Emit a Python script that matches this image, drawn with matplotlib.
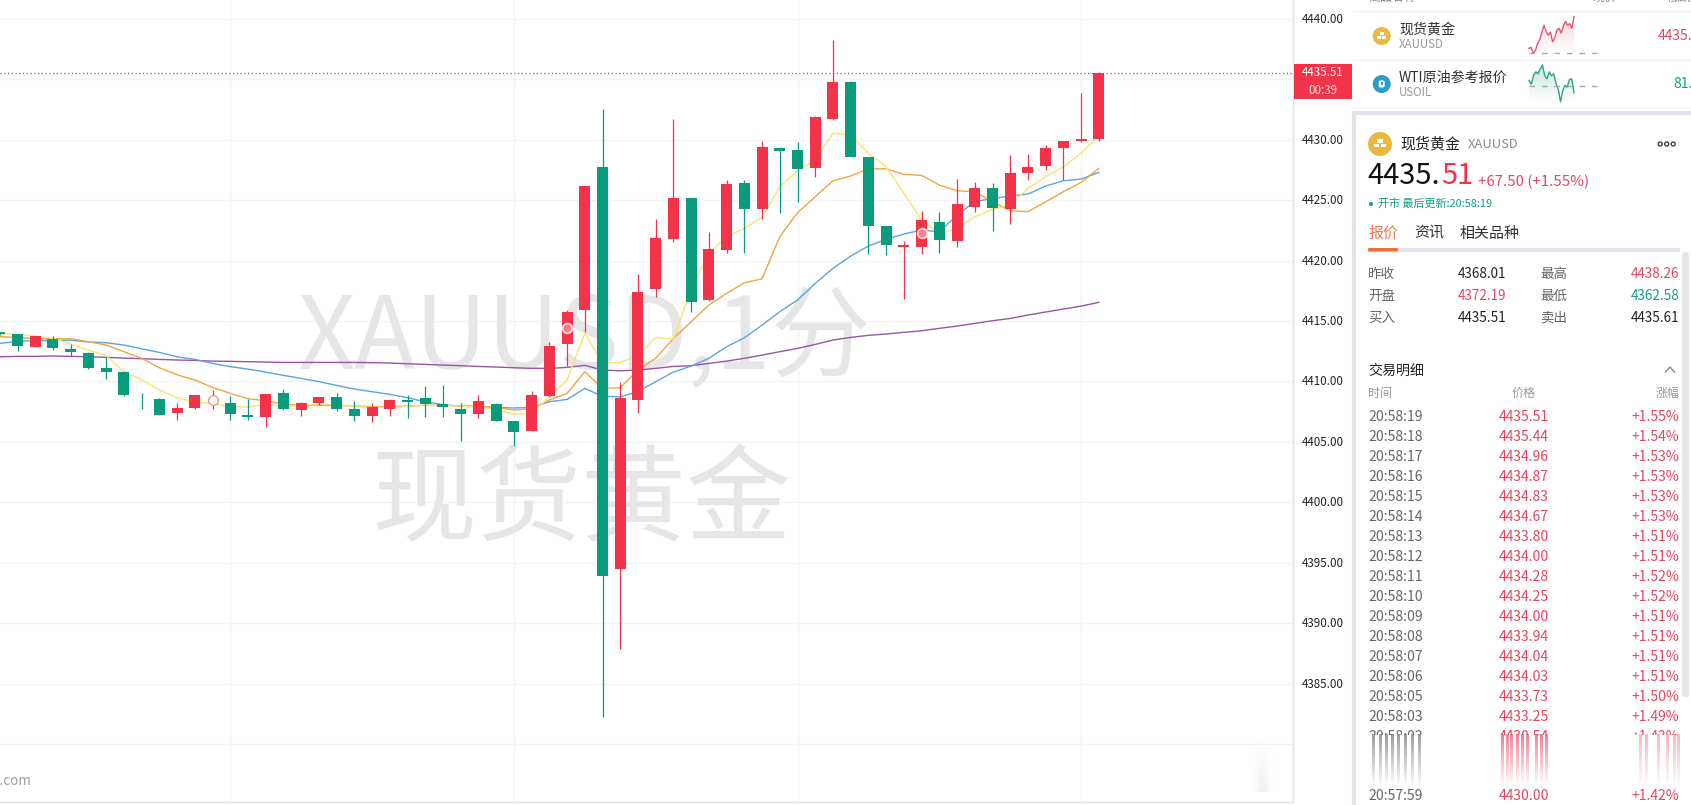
import numpy as np
import matplotlib
matplotlib.use('Agg')
import matplotlib.pyplot as plt
from matplotlib.patches import Rectangle, Circle, FancyBboxPatch
from matplotlib.transforms import ScaledTranslation

plt.rcParams['font.family'] = ['Noto Sans CJK SC', 'DejaVu Sans']

W, H = 1691, 805
RED = '#f2334a'
GREEN = '#0a9b7d'
TEAL = '#0f9f86'
PRICE_RED = '#e2475f'

# candle data, index 0 is the cut one at the left edge
opens = [4414.06, 4413.92, 4412.87, 4413.50, 4412.65, 4412.35, 4411.11, 4410.77, 4408.73, 4408.54, 4407.38,
         4407.80, 4408.45, 4408.21, 4407.19, 4407.05, 4409.04, 4407.63, 4408.21, 4408.71, 4407.71, 4407.14,
         4407.71, 4408.46, 4408.62, 4408.13, 4407.71, 4407.30, 4408.13, 4406.73, 4405.89, 4408.79, 4413.09,
         4415.90, 4427.73, 4394.51, 4408.49, 4417.67, 4421.80, 4425.17, 4416.73, 4420.87, 4426.41, 4424.28,
         4429.30, 4429.14, 4427.65, 4431.70, 4434.76, 4428.56, 4422.85, 4421.11, 4421.11, 4423.18, 4421.61,
         4424.42, 4425.99, 4424.26, 4427.23, 4427.81, 4429.30, 4429.91, 4430.05]
closes = [4413.92, 4412.95, 4413.75, 4412.76, 4412.46, 4411.11, 4410.80, 4408.87, 4408.68, 4407.22, 4407.80,
          4408.87, 4408.50, 4407.30, 4407.05, 4408.95, 4407.71, 4408.21, 4408.71, 4407.71, 4407.14, 4407.88,
          4408.46, 4408.29, 4408.13, 4407.88, 4407.30, 4408.38, 4406.73, 4405.81, 4408.87, 4412.93, 4415.74,
          4426.16, 4393.90, 4408.62, 4417.39, 4421.86, 4425.17, 4416.56, 4420.95, 4426.33, 4424.28, 4429.39,
          4429.08, 4427.57, 4431.87, 4434.76, 4428.56, 4422.85, 4421.28, 4421.25, 4423.35, 4421.69, 4424.67,
          4425.99, 4424.34, 4427.23, 4427.73, 4429.30, 4429.88, 4430.05, 4435.53]
highs = [4414.10, 4413.95, 4413.75, 4413.75, 4413.09, 4412.40, 4412.04, 4410.83, 4409.04, 4408.60, 4408.24,
         4408.87, 4409.29, 4408.79, 4408.54, 4409.00, 4409.37, 4408.29, 4408.71, 4409.04, 4408.38, 4408.24,
         4408.54, 4408.87, 4409.62, 4409.70, 4408.21, 4408.87, 4408.21, 4406.73, 4409.20, 4413.26, 4415.90,
         4426.16, 4432.53, 4409.95, 4418.88, 4423.40, 4431.70, 4425.17, 4422.35, 4426.66, 4426.66, 4429.88,
         4429.30, 4429.80, 4431.95, 4438.24, 4434.84, 4428.56, 4422.85, 4421.61, 4424.06, 4424.01, 4426.74,
         4426.49, 4426.41, 4428.72, 4428.81, 4429.55, 4429.88, 4433.85, 4435.60]
lows = [4413.85, 4412.54, 4412.87, 4412.59, 4412.10, 4411.02, 4410.20, 4408.79, 4407.71, 4407.22, 4406.80,
        4407.74, 4407.71, 4406.83, 4406.80, 4406.25, 4407.66, 4407.14, 4408.02, 4407.55, 4406.72, 4406.64,
        4407.14, 4406.97, 4407.05, 4407.05, 4405.07, 4406.97, 4406.70, 4404.65, 4405.89, 4408.74, 4411.27,
        4414.11, 4382.27, 4387.89, 4407.36, 4417.01, 4421.56, 4415.77, 4416.62, 4420.65, 4420.65, 4423.43,
        4423.95, 4424.84, 4426.90, 4431.62, 4428.56, 4420.54, 4420.45, 4416.81, 4420.54, 4420.62, 4421.11,
        4424.01, 4422.44, 4423.02, 4426.66, 4427.48, 4426.66, 4429.80, 4429.91]

ma_yellow = [4413.97, 4413.89, 4413.75, 4413.56, 4413.09, 4412.59, 4412.15, 4410.80, 4410.11, 4409.29, 4408.65,
             4408.27, 4408.18, 4407.91, 4407.88, 4408.10, 4407.91, 4408.02, 4408.10, 4408.10, 4407.91, 4407.85,
             4407.85, 4407.91, 4408.05, 4408.02, 4407.96, 4407.91, 4407.69, 4407.27, 4407.36, 4408.73, 4410.11,
             4413.97, 4411.55, 4411.55, 4412.18, 4413.64, 4413.48, 4417.70, 4420.59, 4421.97, 4422.66, 4423.57,
             4426.10, 4427.43, 4428.31, 4430.52, 4430.38, 4428.86, 4427.76, 4425.55, 4423.35, 4422.25, 4422.66,
             4423.62, 4424.23, 4424.59, 4425.97, 4426.93, 4427.76, 4428.86, 4430.38]
ma_orange = [4413.70, 4413.64, 4413.53, 4413.53, 4413.53, 4413.28, 4413.01, 4412.46, 4411.91, 4411.13, 4410.55,
             4410.11, 4409.51, 4409.01, 4408.57, 4408.40, 4408.13, 4408.02, 4408.02, 4408.02, 4407.96, 4407.91,
             4407.91, 4407.96, 4408.02, 4408.02, 4407.96, 4407.96, 4407.85, 4407.63, 4407.74, 4408.46, 4409.01,
             4410.80, 4409.42, 4409.48, 4410.94, 4411.91, 4413.56, 4414.94, 4416.32, 4417.28, 4418.16, 4418.49,
             4421.97, 4423.95, 4425.28, 4426.60, 4426.99, 4427.57, 4427.59, 4427.12, 4427.04, 4426.24, 4425.77,
             4425.69, 4424.86, 4424.12, 4424.04, 4424.86, 4425.69, 4426.46, 4427.62]
ma_blue = [4413.15, 4413.31, 4413.37, 4413.37, 4413.42, 4413.26, 4413.20, 4413.01, 4412.70, 4412.40, 4412.04,
           4411.82, 4411.49, 4411.22, 4411.02, 4410.77, 4410.50, 4410.25, 4409.98, 4409.67, 4409.37, 4409.15,
           4408.93, 4408.65, 4408.32, 4408.07, 4407.96, 4407.91, 4407.85, 4407.80, 4407.85, 4408.32, 4408.51,
           4409.42, 4408.76, 4408.73, 4409.15, 4409.98, 4410.77, 4411.27, 4411.91, 4412.87, 4413.61, 4414.66,
           4415.77, 4416.73, 4418.11, 4419.35, 4420.37, 4421.20, 4421.75, 4422.19, 4422.52, 4422.38, 4423.76,
           4424.86, 4425.14, 4425.33, 4425.50, 4426.16, 4426.60, 4426.74, 4427.29]
ma_purple = [4412.04, 4412.07, 4412.07, 4412.10, 4412.07, 4412.04, 4411.99, 4411.93, 4411.88, 4411.82, 4411.77,
             4411.74, 4411.68, 4411.66, 4411.63, 4411.60, 4411.57, 4411.57, 4411.57, 4411.57, 4411.57, 4411.55,
             4411.52, 4411.46, 4411.41, 4411.35, 4411.30, 4411.24, 4411.19, 4411.13, 4411.08, 4411.08, 4411.16,
             4411.33, 4410.94, 4410.88, 4410.94, 4411.08, 4411.24, 4411.30, 4411.49, 4411.68, 4411.91, 4412.18,
             4412.46, 4412.73, 4413.06, 4413.42, 4413.64, 4413.81, 4413.92, 4414.06, 4414.19, 4414.39, 4414.58,
             4414.80, 4415.02, 4415.21, 4415.49, 4415.74, 4415.99, 4416.23, 4416.54]

y_ticks = [4440, 4435, 4430, 4425, 4420, 4415, 4410, 4405, 4400, 4395, 4390, 4385, 4380]
y_labels = ['4440.00', '', '4430.00', '4425.00', '4420.00', '4415.00', '4410.00', '4405.00', '4400.00',
            '4395.00', '4390.00', '4385.00', '']
grid_x = [13, 29, 45, 61]
last_price = 4435.51
marker_idx = [12, 32, 52]
marker_price = [4408.49, 4414.44, 4422.24]

spark_gold = [18, 20, 5, 12, 30, 40, 60, 78, 62, 52, 60, 35, 45, 65, 70, 58, 75, 88, 78, 82, 70, 100]
spark_gold_base = 7
spark_oil = [63, 53, 75, 85, 80, 93, 103, 75, 67, 85, 75, 80, 55, 40, 7, 35, 50, 45, 65, 67, 30]
spark_oil_base = 48

quote_left = [('昨收', '4368.01', '#222222'), ('开盘', '4372.19', PRICE_RED), ('买入', '4435.51', '#222222')]
quote_right = [('最高', '4438.26', PRICE_RED), ('最低', '4362.58', TEAL), ('卖出', '4435.61', '#222222')]

trade_times = ['20:58:19', '20:58:18', '20:58:17', '20:58:16', '20:58:15', '20:58:14', '20:58:13', '20:58:12',
               '20:58:11', '20:58:10', '20:58:09', '20:58:08', '20:58:07', '20:58:06', '20:58:05', '20:58:03',
               '20:58:02']
trade_prices = ['4435.51', '4435.44', '4434.96', '4434.87', '4434.83', '4434.67', '4433.80', '4434.00',
                '4434.28', '4434.25', '4434.00', '4433.94', '4434.04', '4434.03', '4433.73', '4433.25',
                '4430.54']
trade_pcts = ['+1.55%', '+1.54%', '+1.53%', '+1.53%', '+1.53%', '+1.53%', '+1.51%', '+1.51%',
              '+1.52%', '+1.52%', '+1.51%', '+1.51%', '+1.51%', '+1.51%', '+1.50%', '+1.49%',
              '+1.43%']


def px(n):
	# font size in pixels to points at dpi 100
	return n * 0.72


def txt(a, x, y, s, size, color='#333333', ha='left', va='center', **kw):
	a.text(x, y, s, fontsize=px(size), color=color, ha=ha, va=va, **kw)


def fade_stripe(a, x0, x1, y0, y1, rgb, top_alpha):
	# vertical stripe that fades out downward
	img = np.zeros((32, 1, 4))
	img[:, :, 0], img[:, :, 1], img[:, :, 2] = rgb
	img[:, 0, 3] = np.linspace(top_alpha, 0, 32)
	a.imshow(img, extent=(x0, x1, y1, y0), aspect='auto', interpolation='bilinear', zorder=6)


def smudge(a, x0, x1, y0, y1):
	# soft grey blur near the bottom of the chart
	xx = np.linspace(-1, 1, 40)
	yy = np.linspace(0, 1, 60)
	img = np.zeros((60, 40, 4))
	img[:, :, :3] = 0.86
	img[:, :, 3] = 0.45 * np.outer(yy ** 1.5, np.exp(-(xx * 2) ** 2))
	a.imshow(img, extent=(x0, x1, y1, y0), aspect='auto', interpolation='bilinear', zorder=2)


def coin(a, x, y, r, color, kind):
	a.add_patch(Circle((x, y), r, color=color, lw=0, zorder=3))
	if kind == 'gold':
		s = r * 0.24
		for dx, dy in [(0, -s * 1.1), (-s * 1.2, s * 0.6), (s * 1.2, s * 0.6)]:
			a.add_patch(Rectangle((x + dx - s, y + dy - s * 0.6), s * 2, s * 1.2, color='white', lw=0, zorder=4))
	else:
		a.add_patch(FancyBboxPatch((x - 3, y - 3.5), 6, 7, boxstyle='round,pad=0,rounding_size=1.5', fc='white', ec='none', zorder=4))
		a.add_patch(Rectangle((x - 1.2, y - 1.5), 2.4, 3, color=color, lw=0, zorder=5))


def sparkline(fig, top, bottom, values, base, color, rgb):
	ax = fig.add_axes([1529 / W, 1 - bottom / H, 75 / W, (bottom - top) / H])
	ax.axis('off')
	ax.patch.set_alpha(0)
	n = len(values)
	xs = np.arange(n)
	right = (n - 1) * 75 / 45
	lo = min(min(values), base)
	hi = max(values)
	ax.plot(xs, values, color=color, lw=1.0, zorder=3, clip_on=False)
	ax.hlines(base, 0, right, color='#a8a8a8', lw=1.0, linestyles=(0, (4, 5)), zorder=4, clip_on=False)
	img = np.zeros((32, 1, 4))
	img[:, :, 0], img[:, :, 1], img[:, :, 2] = rgb
	img[:, 0, 3] = np.linspace(0.3, 0, 32)
	im = ax.imshow(img, extent=(0, n - 1, lo, hi), aspect='auto', origin='upper', zorder=1)
	poly = ax.fill_between(xs, values, lo, color='none')
	im.set_clip_path(poly.get_paths()[0], transform=ax.transData)
	ax.set_xlim(0, right)
	ax.set_ylim(lo, hi)


def main():
	fig = plt.figure(figsize=(W / 100, H / 100), dpi=100, facecolor='white')
	ax = fig.add_axes([0, 3 / H, 1293 / W, 802 / H])

	n = len(opens)
	x = np.arange(n)
	o = np.array(opens)
	c = np.array(closes)
	colors = [RED if c[i] >= o[i] else GREEN for i in range(n)]

	ax.set_xlim(0.011, 72.95)
	ax.set_ylim(4375.21, 4441.55)
	for g in y_ticks:
		ax.axhline(g, color='#f1f3f7', lw=0.9, zorder=0)
	for g in grid_x:
		ax.axvline(g, color='#f1f3f7', lw=0.9, zorder=0)

	ax.text(32.95, 4413.4, 'XAUUSD,1分', fontsize=px(100), color='#e6e6e8', ha='center', va='center', zorder=1)
	ax.text(32.84, 4400.0, '现货黄金', fontsize=px(105), color='#e6e6e8', ha='center', va='center', zorder=1)

	ax.plot(x, ma_purple, color='#9a54a8', lw=1.0, zorder=2)
	ax.plot(x, ma_blue, color='#5aa5e0', lw=1.0, zorder=2)
	ax.plot(x, ma_orange, color='#f0a63f', lw=1.0, zorder=2)
	ax.plot(x, ma_yellow, color='#fbe36f', lw=1.0, zorder=2)

	ax.vlines(x, lows, highs, colors=colors, lw=0.9, zorder=3)
	ax.bar(x, np.abs(c - o), bottom=np.minimum(o, c), width=0.62, color=colors, lw=0, zorder=4)

	ax.axhline(last_price, color='#c8485a', lw=0.9, ls=(0, (1, 2)), zorder=5)
	ax.plot(marker_idx[0], marker_price[0], 'o', ms=7, mfc='white', mec='#e8998c', mew=1.0, zorder=6)
	ax.plot(marker_idx[1:], marker_price[1:], 'o', ms=7, mfc='#f9808c', mec='#ffe3e5', mew=1.2, zorder=6)

	ax.yaxis.tick_right()
	ax.set_yticks(y_ticks)
	ax.set_yticklabels(y_labels, fontsize=px(11.6), color='#222222')
	ax.tick_params(axis='y', length=0, pad=6)
	up = ScaledTranslation(0, 1 / 100, fig.dpi_scale_trans)
	for lab in ax.get_yticklabels():
		lab.set_transform(lab.get_transform() + up)
	ax.set_xticks([])
	for k in ['top', 'left']:
		ax.spines[k].set_visible(False)
	for k in ['right', 'bottom']:
		ax.spines[k].set_color('#e0e3eb')
		ax.spines[k].set_linewidth(1.0)

	# overlay in pixel coordinates for the side panel
	ov = fig.add_axes([0, 0, 1, 1], zorder=5)
	ov.patch.set_alpha(0)
	ov.axis('off')

	txt(ov, 31, 780.5, '9.com', 13.5, '#a0a0a0', ha='right')
	smudge(ov, 1250, 1274, 738, 792)

	# price tag
	ov.add_patch(Rectangle((1294, 64), 57.5, 35.5, color=RED, lw=0, zorder=3))
	txt(ov, 1322.5, 72.7, '4435.51', 11.6, 'white', ha='center', zorder=4)
	txt(ov, 1322.5, 90, '00:39', 11.6, '#ffe0e3', ha='center', zorder=4)

	# watch list
	for s, xp, ha in [('商品名称', 1368, 'left'), ('现价', 1604, 'center'), ('涨跌', 1680, 'center')]:
		txt(ov, xp, -3, s, 12, '#888888', ha=ha)
	for yy in [11, 60, 108]:
		ov.hlines(yy, 1353, W, color='#f2f3f6', lw=1.0)
	coin(ov, 1381.7, 36, 9, '#e9b93f', 'gold')
	txt(ov, 1399, 30, '现货黄金', 14)
	txt(ov, 1399, 45, 'XAUUSD', 11.5, '#9a9a9a')
	txt(ov, 1658, 36, '4435.', 14, PRICE_RED)
	coin(ov, 1381.7, 84, 9, '#2b9cc6', 'oil')
	txt(ov, 1399, 78, 'WTI原油参考报价', 14)
	txt(ov, 1399, 93, 'USOIL', 11.5, '#9a9a9a')
	txt(ov, 1673, 84, '81.', 14, TEAL)
	sparkline(fig, 16.7, 53.3, spark_gold, spark_gold_base, '#e8556b', (0.95, 0.45, 0.52))
	sparkline(fig, 65, 101.7, spark_oil, spark_oil_base, '#2aa58c', (0.25, 0.65, 0.55))

	# detail panel frame
	frame = '#e1e2eb'
	ov.add_patch(Rectangle((1352, 111), 4, 694, color=frame, lw=0))
	ov.add_patch(Rectangle((1352, 111), W - 1352, 4, color=frame, lw=0))

	coin(ov, 1380, 144, 12, '#e9b93f', 'gold')
	txt(ov, 1400, 143.7, '现货黄金', 15, '#222222')
	txt(ov, 1467.5, 145, 'XAUUSD', 13, '#888888')
	for dx in [-6.5, 0, 6.5]:
		ov.add_patch(Circle((1666.7 + dx, 144), 2, fc='white', ec='#333333', lw=0.9))

	txt(ov, 1367, 175.5, '4435.', 29, '#111111')
	txt(ov, 1441.5, 175.5, '51', 29, RED)
	txt(ov, 1478, 181.5, '+67.50 (+1.55%)', 15, PRICE_RED)
	ov.add_patch(Circle((1371, 204), 2, color=TEAL, lw=0))
	txt(ov, 1377.5, 204, '开市 最后更新:20:58:19', 11, TEAL)

	txt(ov, 1368, 233.5, '报价', 15, '#f0784f')
	txt(ov, 1414, 233.5, '资讯', 15)
	txt(ov, 1460, 233.5, '相关品种', 15)
	ov.add_patch(Rectangle((1368, 248), 312, 3.5, color=frame, lw=0))
	ov.add_patch(FancyBboxPatch((1368, 248), 30, 3.5, boxstyle='round,pad=0,rounding_size=1.5', fc='#f26b3a', ec='none', zorder=3))
	ov.add_patch(FancyBboxPatch((1682, 252), 7, 445, boxstyle='round,pad=0,rounding_size=3', fc='#e6e6e6', ec='none'))

	for i in range(3):
		yy = 274 + i * 22
		lab, val, col = quote_left[i]
		txt(ov, 1368, yy, lab, 13.5, '#666666')
		txt(ov, 1458, yy, val, 13.5, col)
		lab, val, col = quote_right[i]
		txt(ov, 1540.5, yy, lab, 13.5, '#666666')
		txt(ov, 1679.5, yy, val, 13.5, col, ha='right')

	txt(ov, 1368, 370.5, '交易明细', 14, '#222222')
	ov.plot([1665.5, 1670, 1674.5], [372, 367, 372], color='#888888', lw=1.0)
	txt(ov, 1368, 393, '时间', 12, '#999999')
	txt(ov, 1524, 393, '价格', 12, '#999999', ha='center')
	txt(ov, 1680, 393, '涨幅', 12, '#999999', ha='right')

	for i in range(len(trade_times)):
		yy = 416.5 + i * 20
		txt(ov, 1368, yy, trade_times[i], 14, '#666666')
		txt(ov, 1524, yy, trade_prices[i], 14, PRICE_RED, ha='center')
		txt(ov, 1679.5, yy, trade_pcts[i], 14, PRICE_RED, ha='right')

	# the row that is wiped out in the screenshot
	ov.add_patch(Rectangle((1360, 735), 320, 54, color='white', lw=0, zorder=5))
	for zx in [725, 745, 760, 775, 793, 810, 830, 848]:
		xp = 1100 + zx / 2.653
		fade_stripe(ov, xp - 1.5, xp + 1.5, 735, 787, (0.45, 0.45, 0.45), 0.7)
	for zx in [1068, 1080, 1092, 1108, 1120, 1135, 1158, 1170, 1185]:
		xp = 1100 + zx / 2.653
		fade_stripe(ov, xp - 1.5, xp + 1.5, 735, 787, (0.93, 0.3, 0.4), 0.7)
	for zx in [1435, 1450, 1483, 1505, 1523, 1535]:
		xp = 1100 + zx / 2.653
		fade_stripe(ov, xp - 1.5, xp + 1.5, 735, 787, (0.93, 0.3, 0.4), 0.4)

	txt(ov, 1368, 796, '20:57:59', 14, '#666666')
	txt(ov, 1524, 796, '4430.00', 14, PRICE_RED, ha='center')
	txt(ov, 1679.5, 796, '+1.42%', 14, PRICE_RED, ha='right')

	ov.set_xlim(0, W)
	ov.set_ylim(H, 0)
	fig.savefig('out.png', dpi=100)


if __name__ == "__main__":
	main()
